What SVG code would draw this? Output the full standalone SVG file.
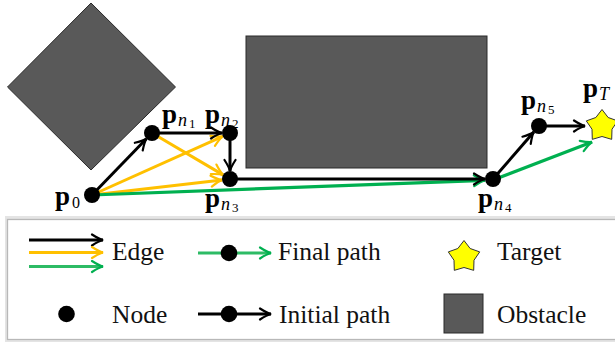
<svg xmlns="http://www.w3.org/2000/svg" width="615" height="345" viewBox="0 0 615 345">
  <style>
    .obst { fill: #595959; stroke: #2a2a2a; stroke-width: 1; }
    .node { fill: #000; }
    .blk { stroke: #000; stroke-width: 3; fill: none; }
    .ylw { stroke: #ffc000; stroke-width: 3; fill: none; }
    .grn { stroke: #00b050; stroke-width: 3.2; fill: none; }
    .star { fill: #ffff00; stroke: #333; stroke-width: 1; }
    .lbl { font-family: "Liberation Serif", "DejaVu Serif", serif; fill: #000; }
    .p { font-weight: bold; font-size: 27px; }
    .s1 { font-style: italic; font-size: 18px; }
    .s2 { font-size: 13px; }
    .leg { font-family: "Liberation Serif", "Times New Roman", serif; font-size: 25.5px; fill: #111; }
  </style>
  <defs>
    <marker id="ah-k" viewBox="-13 -7 15 14" refX="0" refY="0" markerWidth="15" markerHeight="14" markerUnits="userSpaceOnUse" orient="auto">
      <path d="M-11,-5.5 Q-4,-1 0,0 Q-4,1 -11,5.5" fill="none" stroke="#000" stroke-width="2.2" stroke-linecap="round"/>
    </marker>
    <marker id="ah-y" viewBox="-13 -7 15 14" refX="0" refY="0" markerWidth="15" markerHeight="14" markerUnits="userSpaceOnUse" orient="auto">
      <path d="M-11,-5.5 Q-4,-1 0,0 Q-4,1 -11,5.5" fill="none" stroke="#ffc000" stroke-width="2.2" stroke-linecap="round"/>
    </marker>
    <marker id="ah-g" viewBox="-13 -7 15 14" refX="0" refY="0" markerWidth="15" markerHeight="14" markerUnits="userSpaceOnUse" orient="auto">
      <path d="M-11,-5.5 Q-4,-1 0,0 Q-4,1 -11,5.5" fill="none" stroke="#00b050" stroke-width="2.2" stroke-linecap="round"/>
    </marker>
    <!-- five-pointed star, outer radius 16.5, inner radius 10.5 -->
    <polygon id="star5" class="star" points="0,-16.5 6.17,-8.49 15.69,-5.1 9.99,3.24 9.7,13.35 0,10.5 -9.7,13.35 -9.99,3.24 -15.69,-5.1 -6.17,-8.49"/>
  </defs>

  <rect width="615" height="345" fill="#fff"/>

  <!-- obstacles -->
  <g id="obstacle-diamond">
    <polygon class="obst" points="91,3 175.5,87 91,170 7.5,87"/>
  </g>
  <g id="obstacle-rect">
    <rect class="obst" x="246" y="36" width="241" height="132"/>
  </g>

  <!-- connectors -->
  <g id="connectors">
    <!-- candidate edges -->
    <line class="ylw" x1="92" y1="195" x2="222.7" y2="136.3" marker-end="url(#ah-y)"/>
    <line class="ylw" x1="92" y1="195" x2="222.1" y2="179.9" marker-end="url(#ah-y)"/>
    <line class="ylw" x1="152" y1="133" x2="223.1" y2="174.9" marker-end="url(#ah-y)"/>
    <!-- final path -->
    <line class="grn" x1="92" y1="195" x2="485" y2="180.3" marker-end="url(#ah-g)"/>
    <line class="grn" x1="493" y1="180" x2="592" y2="142" marker-end="url(#ah-g)"/>
    <!-- initial path -->
    <line class="blk" x1="92" y1="195" x2="146.4" y2="138.7" marker-end="url(#ah-k)"/>
    <line class="blk" x1="152" y1="133" x2="222" y2="133" marker-end="url(#ah-k)"/>
    <line class="blk" x1="230" y1="133" x2="230" y2="171" marker-end="url(#ah-k)"/>
    <line class="blk" x1="230" y1="179" x2="485" y2="179" marker-end="url(#ah-k)"/>
    <line class="blk" x1="493" y1="179" x2="533.8" y2="132" marker-end="url(#ah-k)"/>
    <line class="blk" x1="539" y1="126" x2="585" y2="126" marker-end="url(#ah-k)"/>
  </g>

  <!-- nodes -->
  <g id="p0">
    <circle class="node" cx="92" cy="195" r="8"/>
    <text class="lbl" x="55" y="205"><tspan class="p">p</tspan><tspan x="72" y="208" font-size="16">0</tspan></text>
  </g>
  <g id="pn1">
    <circle class="node" cx="152" cy="133" r="8"/>
    <text class="lbl" x="162" y="123"><tspan class="p">p</tspan><tspan class="s1" x="178" y="126">n</tspan><tspan class="s2" x="189" y="128">1</tspan></text>
  </g>
  <g id="pn2">
    <circle class="node" cx="230" cy="133" r="8"/>
    <text class="lbl" x="205" y="123"><tspan class="p">p</tspan><tspan class="s1" x="221" y="126">n</tspan><tspan class="s2" x="232" y="128">2</tspan></text>
  </g>
  <g id="pn3">
    <circle class="node" cx="230" cy="179" r="8"/>
    <text class="lbl" x="205" y="207"><tspan class="p">p</tspan><tspan class="s1" x="221" y="210">n</tspan><tspan class="s2" x="232" y="212">3</tspan></text>
  </g>
  <g id="pn4">
    <circle class="node" cx="493" cy="179" r="8"/>
    <text class="lbl" x="478" y="207"><tspan class="p">p</tspan><tspan class="s1" x="494" y="210">n</tspan><tspan class="s2" x="505" y="212">4</tspan></text>
  </g>
  <g id="pn5">
    <circle class="node" cx="539" cy="126" r="8"/>
    <text class="lbl" x="521" y="109"><tspan class="p">p</tspan><tspan class="s1" x="537" y="112">n</tspan><tspan class="s2" x="548" y="114">5</tspan></text>
  </g>
  <g id="target">
    <use href="#star5" x="602" y="126"/>
    <text class="lbl" x="583" y="97"><tspan class="p">p</tspan><tspan class="s1" x="599" y="100">T</tspan></text>
  </g>

  <!-- legend -->
  <g id="legend">
    <rect x="7" y="218" width="620" height="122" fill="none" stroke="#e4e4e4" stroke-width="4"/>
    <rect x="7.5" y="219.5" width="620" height="120" fill="#fff" stroke="#b8b8b8" stroke-width="1.3"/>

    <line class="blk" x1="29" y1="240" x2="103" y2="240" marker-end="url(#ah-k)"/>
    <line class="ylw" x1="29" y1="252.5" x2="103" y2="252.5" marker-end="url(#ah-y)"/>
    <line class="grn" x1="29" y1="266.5" x2="103" y2="266.5" marker-end="url(#ah-g)" style="stroke:#2dbb65"/>
    <text class="leg" x="112" y="260">Edge</text>

    <line class="grn" x1="198" y1="253" x2="271" y2="253" marker-end="url(#ah-g)" style="stroke:#2dbb65"/>
    <circle class="node" cx="229" cy="253" r="8.3"/>
    <text class="leg" x="278" y="260">Final path</text>

    <use href="#star5" x="464" y="257"/>
    <text class="leg" x="497" y="260">Target</text>

    <circle class="node" cx="66.5" cy="314" r="8.3"/>
    <text class="leg" x="112" y="323">Node</text>

    <line class="blk" x1="198" y1="314" x2="271" y2="314" marker-end="url(#ah-k)"/>
    <circle class="node" cx="229" cy="314" r="8.3"/>
    <text class="leg" x="279" y="323">Initial path</text>

    <rect class="obst" x="444" y="294" width="39" height="39"/>
    <text class="leg" x="497" y="323">Obstacle</text>
  </g>
</svg>
